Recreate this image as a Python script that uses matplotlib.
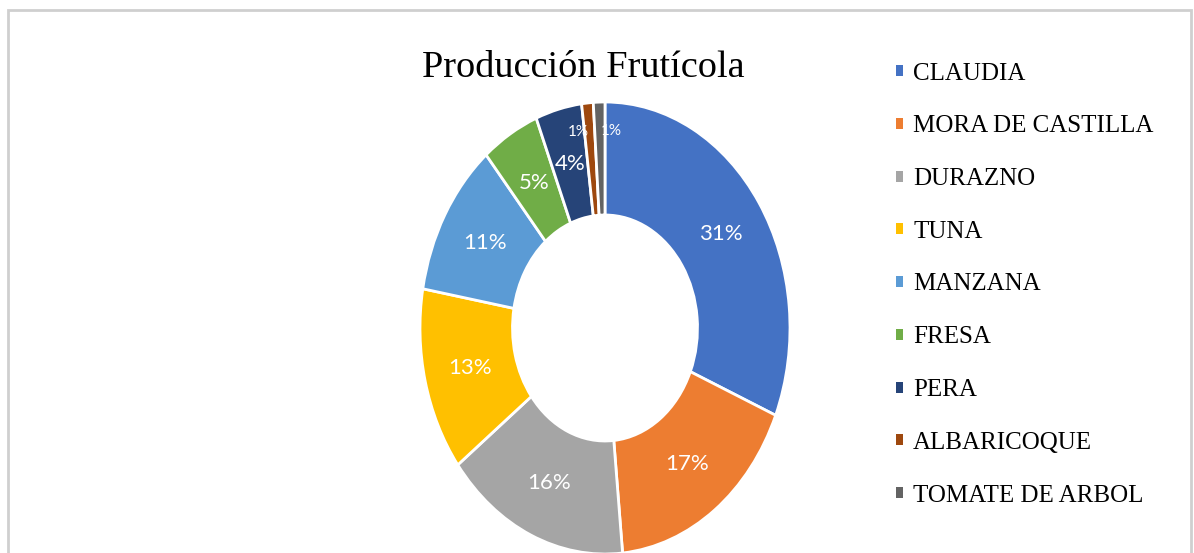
import matplotlib
matplotlib.use("Agg")
import matplotlib.pyplot as plt
from matplotlib.patches import Rectangle

categories = ["CLAUDIA", "MORA DE CASTILLA", "DURAZNO", "TUNA", "MANZANA",
              "FRESA", "PERA", "ALBARICOQUE", "TOMATE DE ARBOL"]
values = [31, 17, 16, 13, 11, 5, 4, 1, 1]
colors = ["#4472C4", "#ED7D31", "#A5A5A5", "#FFC000", "#5B9BD5",
          "#70AD47", "#264478", "#9E480E", "#636363"]
title = "Producción Frutícola"

W, H = 1194, 553
fig = plt.figure(figsize=(W / 100, H / 100), dpi=100)

# outer frame
fig.patches.append(Rectangle((8 / W, -0.05), (1191 - 8) / W, 1.05 - 10 / H,
                             transform=fig.transFigure, fill=False,
                             edgecolor="#cfcfcf", linewidth=2))

cx, cy, rx, ry = 605, 328, 185, 226
ax = fig.add_axes([(cx - rx) / W, 1 - (cy + ry) / H, 2 * rx / W, 2 * ry / H])
wedges, texts, autotexts = ax.pie(
    values, colors=colors, startangle=90, counterclock=False,
    radius=1.0, wedgeprops=dict(width=0.5, edgecolor="white", linewidth=2),
    autopct=lambda p: f"{p:.0f}%", pctdistance=0.75,
    textprops=dict(color="white", fontsize=16, family="Lato"))
ax.set_aspect("auto")
ax.set_xlim(-1, 1)
ax.set_ylim(-1, 1)
for w in wedges:
    w.set_clip_on(False)

# the two tiniest slices: smaller labels, pushed outward and nudged apart
for t, dx in ((autotexts[-2], -0.06), (autotexts[-1], 0.06)):
    x, y = t.get_position()
    t.set_position((x * 0.87 / 0.75 + dx, y * 0.87 / 0.75))
    t.set_fontsize(11)

fig.text(583 / W, 1 - 68 / H, title, ha="center", va="center",
         family="Liberation Serif", fontsize=27.5)

leg = fig.legend(wedges, categories, loc="upper left",
                 bbox_to_anchor=(873 / W, 1 - 40 / H),
                 frameon=False, prop=dict(family="Liberation Serif", size=18),
                 handlelength=0.3, handleheight=0.3, handletextpad=0.4,
                 labelspacing=1.23)
for h in leg.legend_handles:
    h.set_edgecolor("none")

fig.savefig("out.png", dpi=100)
